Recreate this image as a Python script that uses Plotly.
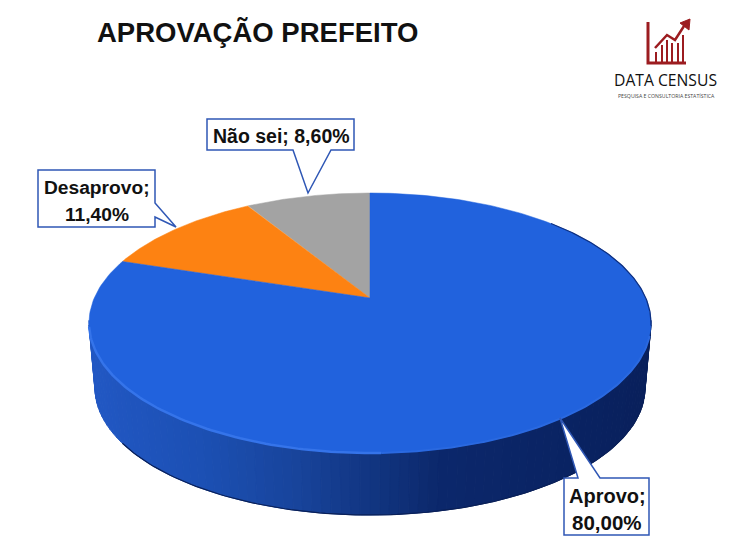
import numpy as np
import plotly.graph_objects as go

categories = ["Não sei", "Desaprovo", "Aprovo"]
values = [8.60, 11.40, 80.00]
value_labels = ["8,60%", "11,40%", "80,00%"]
colors = ["#a3a3a3", "#fd8212", "#2162dd"]

CX, CY, RX, RY = 370.0, 323.0, 281.0, 130.0
BX, BY, BRX, BRY = 370.0, 388.0, 275.0, 127.0
K = 25.0 / RY


def rim(theta):
    """Projected circle point (theta from 12 o'clock, counter-clockwise) with perspective."""
    x, y = -np.sin(theta), np.cos(theta)
    d = 1 + K * y
    return x * np.sqrt(1 - K ** 2) / d, (y + K) / d


fig = go.Figure()

# Side wall strips
t_vals = np.linspace(np.pi / 2 - 0.02, 3 * np.pi / 2 + 0.02, 91)
stops_x = [90, 200, 300, 370, 440, 560, 651]
stops_c = [(34, 88, 196), (28, 80, 180), (24, 68, 155), (18, 54, 130), (12, 40, 108), (10, 36, 100), (9, 32, 92)]
for a, b in zip(t_vals[:-1], t_vals[1:]):
    xs = [CX - RX * np.sin(a), CX - RX * np.sin(b), BX - BRX * np.sin(b), BX - BRX * np.sin(a), CX - RX * np.sin(a)]
    ys = [CY - RY * np.cos(a), CY - RY * np.cos(b), BY - BRY * np.cos(b), BY - BRY * np.cos(a), CY - RY * np.cos(a)]
    mid = (xs[0] + xs[1]) / 2
    col = [int(np.interp(mid, stops_x, [c[i] for c in stops_c])) for i in range(3)]
    rgb = f"rgb({col[0]},{col[1]},{col[2]})"
    fig.add_trace(go.Scatter(x=xs, y=ys, mode="lines", fill="toself", fillcolor=rgb,
                             line=dict(color=rgb, width=1), hoverinfo="skip", showlegend=False))

# Dark lower edge of the wall
t = np.linspace(np.pi / 2 + 0.45, 3 * np.pi / 2 - 0.1, 120)
fig.add_trace(go.Scatter(x=BX - BRX * np.sin(t), y=BY - BRY * np.cos(t), mode="lines",
                         line=dict(color="#0a2058", width=1.2), hoverinfo="skip", showlegend=False))

# Slices from the values
total = sum(values)
start = 0.0
apex_x, apex_y = CX, CY - K * RY
for name, v, lab, c in zip(categories, values, value_labels, colors):
    end = start + v / total * 2 * np.pi
    th = np.linspace(start, end, 240)
    xp, yp = rim(th)
    xs = np.concatenate([[apex_x], CX + RX * xp, [apex_x]])
    ys = np.concatenate([[apex_y], CY - RY * yp, [apex_y]])
    fig.add_trace(go.Scatter(x=xs, y=ys, mode="lines", fill="toself", fillcolor=c,
                             line=dict(color=c, width=0.5), name=name,
                             hovertext=f"{name}; {lab}", hoverinfo="text", showlegend=False))
    start = end

# Rim highlights
t = np.linspace(np.pi / 2 + 0.03, np.pi + 0.04, 80)
fig.add_trace(go.Scatter(x=CX - RX * np.sin(t), y=CY - RY * np.cos(t), mode="lines",
                         line=dict(color="#3574ea", width=2.5), hoverinfo="skip", showlegend=False))
t = np.linspace(np.pi + 0.04, 3 * np.pi / 2 - 0.1, 80)
fig.add_trace(go.Scatter(x=CX - RX * np.sin(t), y=CY - RY * np.cos(t), mode="lines",
                         line=dict(color="#2a69e0", width=2), hoverinfo="skip", showlegend=False))
t = np.linspace(0.7, np.pi / 2 + 0.02, 80)
fig.add_trace(go.Scatter(x=CX + RX * np.sin(t), y=CY - RY * np.cos(t), mode="lines",
                         line=dict(color="#0d2f80", width=1.2), hoverinfo="skip", showlegend=False))

BLUE = "#2f57b5"


def box(pts):
    return dict(type="path", path=pts, line=dict(color=BLUE, width=1.5), fillcolor="white",
                xref="x", yref="y", layer="above")


shapes = [
    box("M207,119 L354,119 L354,150 L331,150 L308,193 L293,150 L207,150 Z"),
    box("M38,170 L155,170 L155,203 L176,227 L155,217 L155,227 L38,227 Z"),
    box("M564,478 L578,478 L560,418 L600,478 L649,478 L649,535 L564,535 Z"),
]

# Logo
RED = "#9c1c20"
shapes += [
    dict(type="path", path="M648,22 L648,63 L686,63", line=dict(color=RED, width=3), xref="x", yref="y"),
    dict(type="path", path="M655,48 L667,35 L675,40 L686,23", line=dict(color=RED, width=2.5), xref="x", yref="y"),
    dict(type="path", path="M680,23 L690,19 L689,30 Z", line=dict(color=RED, width=1), fillcolor=RED, xref="x", yref="y"),
]
for bx, top in zip([656, 662, 667, 672, 678, 683], [52, 45, 40, 43, 43, 35]):
    shapes.append(dict(type="line", x0=bx, x1=bx, y0=top, y1=63, line=dict(color=RED, width=2), xref="x", yref="y"))


def txt(s, x, y, size, font="Liberation Sans", bold=True, color="#111111"):
    return dict(text=f"<b>{s}</b>" if bold else s, x=x, y=y, xref="x", yref="y", showarrow=False,
                xanchor="center", yanchor="middle", font=dict(family=font, size=size, color=color))


annotations = [
    txt("APROVAÇÃO PREFEITO", 257.5, 32, 27.5),
    txt(f"{categories[0]}; {value_labels[0]}", 281, 136, 19.5),
    txt(f"{categories[1]};", 96.5, 187, 19.2),
    txt(value_labels[1], 96.5, 214, 19.2),
    txt(f"{categories[2]};", 607, 496, 20),
    txt(value_labels[2], 607, 522, 20.5),
    txt("DATA CENSUS", 665.5, 80, 15.7, font="Open Sans", bold=False),
    txt("PESQUISA E CONSULTORIA ESTATÍSTICA", 666, 96, 5.2, font="Open Sans", bold=False, color="#444444"),
]

fig.update_layout(
    width=736, height=549, margin=dict(l=0, r=0, t=0, b=0),
    paper_bgcolor="white", plot_bgcolor="white",
    xaxis=dict(range=[8, 744], visible=False, fixedrange=True),
    yaxis=dict(range=[557, 8], visible=False, fixedrange=True),
    shapes=shapes, annotations=annotations, showlegend=False,
)
fig.write_html("out.html")
